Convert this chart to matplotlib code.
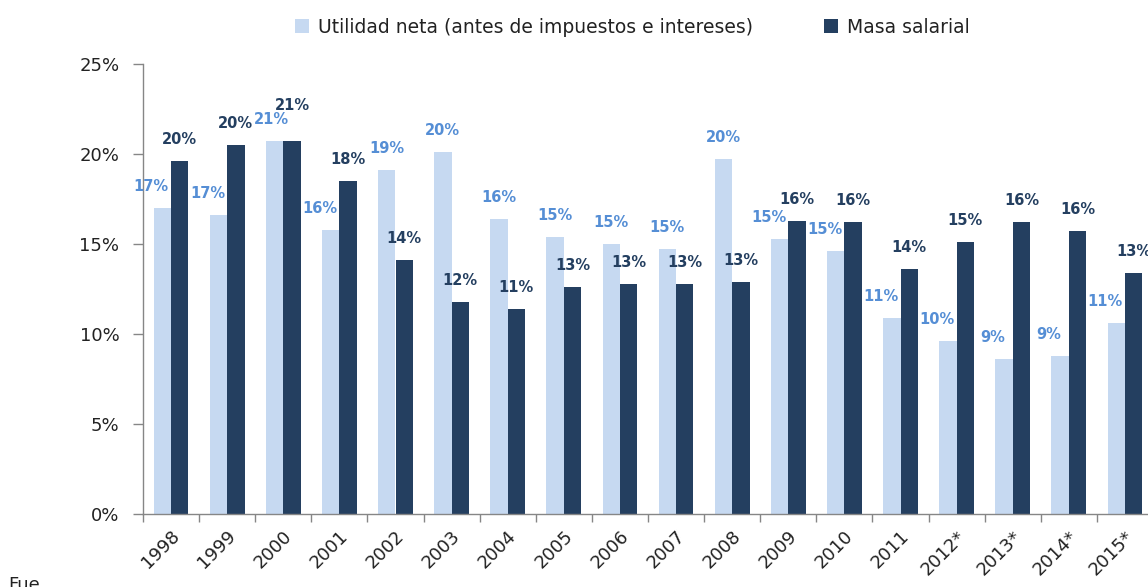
import matplotlib.pyplot as plt
import numpy as np
from matplotlib.patches import Patch
from matplotlib.ticker import FixedLocator, FuncFormatter
import matplotlib.transforms as mtransforms

# data (percent)
years = ['1998', '1999', '2000', '2001', '2002', '2003', '2004', '2005', '2006',
         '2007', '2008', '2009', '2010', '2011', '2012*', '2013*', '2014*', '2015*']
utilidad = [17.0, 16.6, 20.7, 15.8, 19.1, 20.1, 16.4, 15.4, 15.0,
            14.7, 19.7, 15.3, 14.6, 10.9, 9.6, 8.6, 8.8, 10.6]
masa = [19.6, 20.5, 20.7, 18.5, 14.1, 11.8, 11.4, 12.6, 12.8,
        12.8, 12.9, 16.3, 16.2, 13.6, 15.1, 16.2, 15.7, 13.4]
yticks = [0, 5, 10, 15, 20, 25]

light = '#C6D9F1'
dark = '#243F60'
light_txt = '#558ED5'

fig = plt.figure(figsize=(11.48, 5.87), dpi=100)
# axes runs a bit past the right edge, like the cropped original
ax = fig.add_axes([143/1148, 73/587, 1010/1148, 450/587])

x = np.arange(len(years)) + 0.5
w = 0.31
ax.bar(x - w/2, utilidad, width=w, color=light, zorder=2)
ax.bar(x + w/2, masa, width=w, color=dark, zorder=2)

# data labels
for xi, u, m in zip(x, utilidad, masa):
    same = abs(u - m) < 0.5
    if same:
        nudge, lift = -3, 14  # equal bars: stack the labels
    else:
        nudge, lift = (-11 if u < m else 0), 0  # move light label off the dark bar
    ax.annotate(f'{round(u)}%', (xi - w/2, u), xytext=(nudge, 14),
                textcoords='offset pixels', ha='center', va='bottom',
                fontsize=10.5, fontweight='bold', color=light_txt, zorder=3)
    ax.annotate(f'{round(m)}%', (xi + w/2, m), xytext=(0, 14 + lift),
                textcoords='offset pixels', ha='center', va='bottom',
                fontsize=10.5, fontweight='bold', color=dark, zorder=3)

ax.set_xlim(0, len(years))
ax.set_ylim(0, 25)

# y axis
ax.set_yticks(yticks)
ax.yaxis.set_major_formatter(FuncFormatter(lambda v, p: f'{v:.0f}%'))
ax.tick_params(axis='y', length=7, width=1, color='#868686', pad=10,
               labelsize=13, labelcolor='#222222')

# x axis: labels at centers, ticks at boundaries
ax.set_xticks(x)
ax.set_xticklabels(years)
ax.xaxis.set_minor_locator(FixedLocator(np.arange(len(years) + 1)))
ax.tick_params(axis='x', which='major', length=0, pad=14, labelsize=13,
               labelcolor='#222222')
ax.tick_params(axis='x', which='minor', length=6, width=1, color='#868686')
offset = mtransforms.ScaledTranslation(6/100, 0, fig.dpi_scale_trans)
for lab in ax.get_xticklabels():
    lab.set_rotation(45)
    lab.set_rotation_mode('anchor')
    lab.set_ha('right')
    lab.set_va('center')
    lab.set_transform(lab.get_transform() + offset)

for s in ['top', 'right']:
    ax.spines[s].set_visible(False)
for s in ['left', 'bottom']:
    ax.spines[s].set_color('#868686')
    ax.spines[s].set_linewidth(1)

# legend on top
handles = [Patch(facecolor=light, label='Utilidad neta (antes de impuestos e intereses)'),
           Patch(facecolor=dark, label='Masa salarial')]
fig.legend(handles=handles, loc='center', bbox_to_anchor=(0.551, 0.954), ncol=2,
           frameon=False, fontsize=13.5, handlelength=0.72, handleheight=0.72,
           handletextpad=0.5, columnspacing=3.8, labelcolor='#222222')

# source line, mostly hidden in the original
fig.text(8/1148, -0.012, 'Fue', fontsize=13, color='#222222', ha='left', va='bottom')

fig.savefig('out.png', dpi=100)
